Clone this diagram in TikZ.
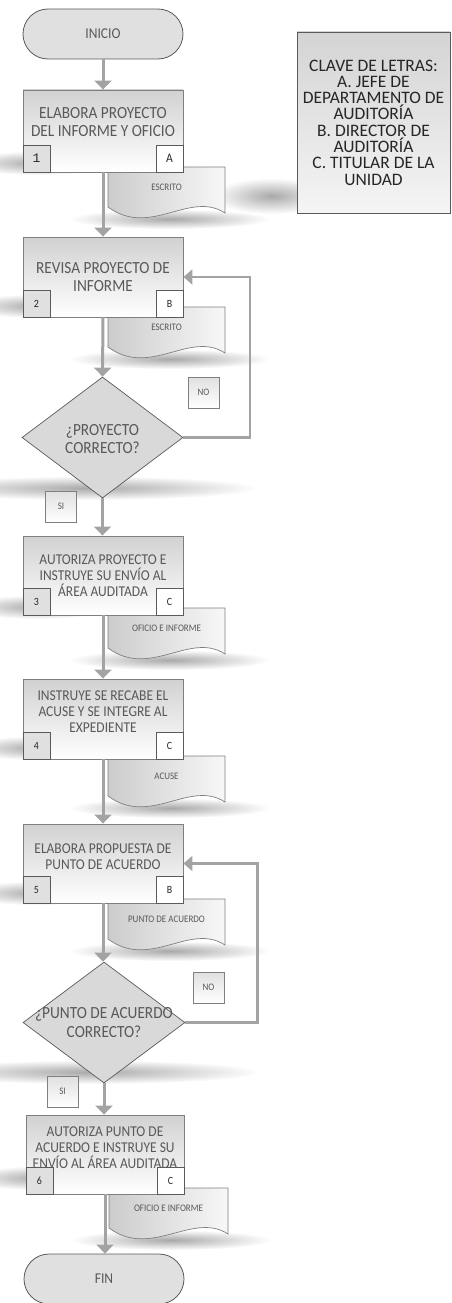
\documentclass[tikz,border=0pt]{standalone}
\usepackage{fontspec}
\setmainfont{Carlito}[FakeStretch=0.9]
\newfontfamily\monof{Liberation Mono}
\newfontfamily\keyfont{Carlito}
\usetikzlibrary{arrows.meta,shapes.geometric,fadings}
\definecolor{txt}{HTML}{595959}
\definecolor{edge}{HTML}{7F7F7F}
\definecolor{darkedge}{HTML}{5A5A5A}
\definecolor{arr}{HTML}{A3A3A3}
\definecolor{shd}{HTML}{8C8C8C}
\definecolor{keytxt}{HTML}{262626}
\tikzfading[name=blob, inner color=transparent!25, outer color=transparent!100]
\newcommand\softshadow[4]{\fill[shd, path fading=blob] (#1,#2) ellipse [x radius=2*#3, y radius=2*#4];}
\newcommand\flowdoc[5]{%
  \softshadow{#2+62}{#3+52}{50}{5}
  \path[docbody] (#2,#3) -- (#4,#3) -- (#4,#3+46) .. controls (#4-35,#3+23) and (#2+42,#3+71) .. (#2,#3+40) -- cycle;
  \node[doctext] (#1) at ({(#2+#4)/2},#3+20) {#5};
}
\tikzset{
  procbox/.style={draw=edge, line width=0.9pt, top color=black!18, bottom color=white, minimum width=160pt, inner sep=0pt},
  proctext/.style={text=txt, align=center, inner sep=0pt, font=\fontsize{15}{16}\selectfont},
  bigtext/.style={proctext, font=\fontsize{17}{18}\selectfont},
  numbox/.style={draw=darkedge, line width=0.8pt, fill=black!12, minimum width=27pt, minimum height=27pt, inner sep=0pt, text=keytxt, font=\fontsize{11}{11}\selectfont},
  letbox/.style={numbox, fill=white},
  docbody/.style={draw=edge, line width=0.7pt, left color=black!20, right color=black!3},
  doctext/.style={text=txt, inner sep=0pt, font=\fontsize{10}{10}\selectfont},
  terminal/.style={draw=darkedge, line width=0.8pt, fill=black!12, rounded corners=25pt, minimum width=160pt, minimum height=50pt, inner sep=0pt, text=txt, font=\fontsize{15}{15}\selectfont},
  decision/.style={diamond, draw=darkedge, line width=0.7pt, fill=black!15, inner sep=0pt, minimum width=161pt, minimum height=121pt},
  dectext/.style={text=txt, align=center, inner sep=0pt, font=\fontsize{17}{18.5}\selectfont},
  tagbox/.style={draw=edge, line width=0.7pt, top color=black!12, bottom color=white, minimum width=31pt, minimum height=31pt, inner sep=0pt, text=txt, font=\fontsize{10}{10}\selectfont},
  keybox/.style={draw=darkedge, line width=0.8pt, top color=black!17, bottom color=black!4, minimum width=153pt, minimum height=181pt, inner sep=0pt, align=center, text=keytxt, font=\keyfont\fontsize{17.5}{16.3}\selectfont},
  mainarrow/.style={draw=arr, line width=3pt, -{Triangle[width=17pt,length=9pt]}},
  looparrow/.style={draw=arr, line width=2.5pt, -{Triangle[width=15pt,length=9pt]}},
}
\begin{document}
\begin{tikzpicture}[x=1pt,y=-1pt]
\useasboundingbox (0,0) rectangle (451,1303);
% soft perspective shadows
\softshadow{38}{163}{38}{6}
\softshadow{38}{306}{38}{6}
\softshadow{38}{607}{38}{6}
\softshadow{38}{748}{38}{6}
\softshadow{38}{893}{38}{6}
\softshadow{40}{1178}{38}{6}
\softshadow{88}{488}{85}{6}
\softshadow{90}{1072}{85}{6}
\softshadow{272}{196}{30}{9}
% documents
\flowdoc{d1}{108}{167}{225}{ESCRITO}
\flowdoc{d2}{108}{307}{225}{ESCRITO}
\flowdoc{d3}{108}{608}{225}{OFICIO E INFORME}
\flowdoc{d4}{108}{756}{225}{ACUSE}
\flowdoc{d5}{108}{899}{225}{PUNTO DE ACUERDO}
\flowdoc{d6}{109}{1188}{228}{OFICIO E INFORME}
% legend
\node[keybox] (key) at (373.5,122.5) {CLAVE DE LETRAS:\\A. JEFE DE\\DEPARTAMENTO DE\\AUDITORÍA\\B. DIRECTOR DE\\AUDITORÍA\\C. TITULAR DE LA\\UNIDAD};
% terminals
\node[terminal] (start) at (103,34) {INICIO};
\node[terminal] (fin) at (104,1279) {FIN};
% step 1
\node[procbox, minimum height=82pt] (b1) at (103,131) {};
\node[bigtext] (t1) at (103,122) {ELABORA PROYECTO\\DEL INFORME Y OFICIO};
\node[numbox, anchor=south west, font=\fontsize{13}{13}\selectfont\monof] (n1) at (b1.south west) {1};
\node[letbox, anchor=south east, font=\fontsize{13}{13}\selectfont] (l1) at (b1.south east) {A};
% step 2
\node[procbox, minimum height=80pt] (b2) at (103,277) {};
\node[bigtext] (t2) at (103,277) {REVISA PROYECTO DE\\INFORME};
\node[numbox, anchor=south west] (n2) at (b2.south west) {2};
\node[letbox, anchor=south east] (l2) at (b2.south east) {B};
% decision 1
\node[decision] (q1) at (102.5,437.5) {};
\node[dectext] (qt1) at (102.5,439) {¿PROYECTO\\CORRECTO?};
\node[tagbox] (no1) at (203.5,392.5) {NO};
\node[tagbox] (si1) at (61,506.5) {SI};
% step 3
\node[procbox, minimum height=79pt] (b3) at (103,575.5) {};
\node[proctext] (t3) at (103,576) {AUTORIZA PROYECTO E\\INSTRUYE SU ENVÍO AL\\ÁREA AUDITADA};
\node[numbox, anchor=south west] (n3) at (b3.south west) {3};
\node[letbox, anchor=south east] (l3) at (b3.south east) {C};
% step 4
\node[procbox, minimum height=80pt] (b4) at (103,719) {};
\node[proctext] (t4) at (103,712) {INSTRUYE SE RECABE EL\\ACUSE Y SE INTEGRE AL\\EXPEDIENTE};
\node[numbox, anchor=south west] (n4) at (b4.south west) {4};
\node[letbox, anchor=south east] (l4) at (b4.south east) {C};
% step 5
\node[procbox, minimum height=79pt] (b5) at (103,863.5) {};
\node[proctext] (t5) at (103,857) {ELABORA PROPUESTA DE\\PUNTO DE ACUERDO};
\node[numbox, anchor=south west] (n5) at (b5.south west) {5};
\node[letbox, anchor=south east] (l5) at (b5.south east) {B};
% decision 2
\node[decision, minimum width=162pt] (q2) at (104,1022.5) {};
\node[dectext] (qt2) at (104,1022.5) {¿PUNTO DE ACUERDO\\CORRECTO?};
\node[tagbox] (no2) at (208.5,987.5) {NO};
\node[tagbox] (si2) at (62.5,1091.5) {SI};
% step 6
\node[procbox, minimum width=158pt, minimum height=79pt] (b6) at (105,1154.5) {};
\node[proctext] (t6) at (105,1148) {AUTORIZA PUNTO DE\\ACUERDO E INSTRUYE SU\\ENVÍO AL ÁREA AUDITADA};
\node[numbox, anchor=south west] (n6) at (b6.south west) {6};
\node[letbox, anchor=south east] (l6) at (b6.south east) {C};
% connectors
\draw[mainarrow] (start.south) -- (b1.north);
\draw[mainarrow] (b1.south) -- (b2.north);
\draw[mainarrow] (b2.south) -- (q1.north);
\draw[mainarrow] (q1.south) -- (q1.south |- b3.north);
\draw[mainarrow] (b3.south) -- (b4.north);
\draw[mainarrow] (b4.south) -- (b5.north);
\draw[mainarrow] (b5.south) -- (b5.south |- q2.north);
\draw[mainarrow] (q2.south) -- (q2.south |- b6.north);
\draw[mainarrow] (b6.south) -- (b6.south |- fin.north);
\draw[looparrow] (q1.east) -- ++(66.5,0) |- (b2.east);
\draw[looparrow] (q2.east) -- ++(72,0) |- (b5.east);
\end{tikzpicture}
\end{document}
